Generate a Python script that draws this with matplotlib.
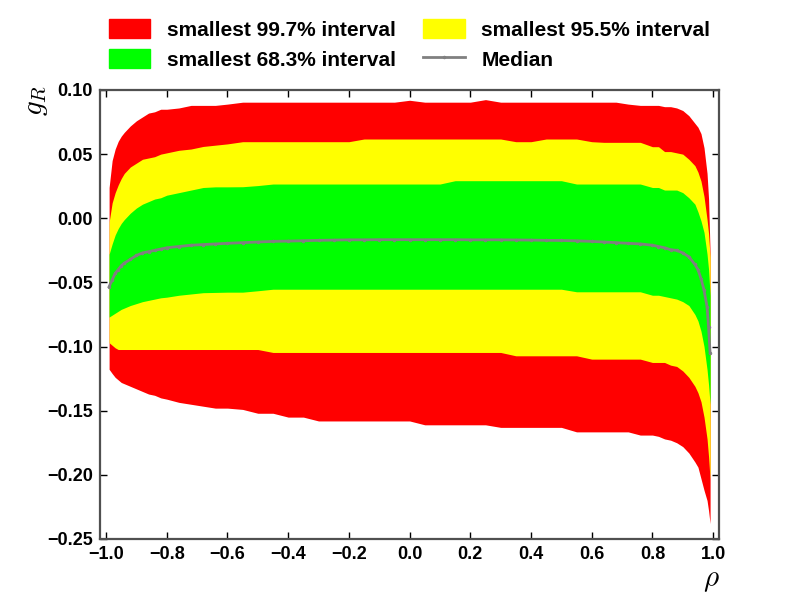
import matplotlib
matplotlib.use("Agg")
import matplotlib.pyplot as plt
from matplotlib.patches import Patch
from matplotlib.lines import Line2D

plt.rcParams['font.family'] = ['Liberation Sans', 'DejaVu Sans']
plt.rcParams['mathtext.fontset'] = 'cm'

rho = [-0.99, -0.98, -0.97, -0.96, -0.95, -0.94, -0.92, -0.90, -0.88, -0.86,
       -0.84, -0.82, -0.80, -0.76, -0.72, -0.68, -0.64, -0.60, -0.55, -0.50,
       -0.45, -0.40, -0.35, -0.30, -0.25, -0.20, -0.15, -0.10, -0.05, 0.00,
       0.05, 0.10, 0.15, 0.20, 0.25, 0.30, 0.35, 0.40, 0.45, 0.50,
       0.55, 0.60, 0.64, 0.68, 0.72, 0.76, 0.80, 0.82, 0.84, 0.86,
       0.88, 0.90, 0.92, 0.94, 0.95, 0.96, 0.97, 0.98, 0.985, 0.99]

red_top = [0.024, 0.045, 0.054, 0.060, 0.064, 0.067, 0.072, 0.076, 0.079, 0.082,
           0.083, 0.085, 0.085, 0.086, 0.088, 0.088, 0.088, 0.089, 0.0905, 0.0905,
           0.0905, 0.0905, 0.0905, 0.0905, 0.0905, 0.0905, 0.0905, 0.0905, 0.0905, 0.092,
           0.0905, 0.0905, 0.0905, 0.0905, 0.0925, 0.0905, 0.0905, 0.0905, 0.0905, 0.0905,
           0.0905, 0.0905, 0.0905, 0.0905, 0.089, 0.088, 0.088, 0.088, 0.087, 0.087,
           0.086, 0.084, 0.080, 0.074, 0.071, 0.066, 0.055, 0.035, 0.015, -0.027]

yellow_top = [-0.003, 0.012, 0.020, 0.026, 0.031, 0.035, 0.040, 0.043, 0.046, 0.047,
              0.048, 0.050, 0.051, 0.053, 0.054, 0.056, 0.057, 0.058, 0.0597, 0.0597,
              0.0597, 0.0597, 0.0597, 0.0597, 0.0597, 0.0597, 0.0618, 0.0618, 0.0618, 0.0618,
              0.0618, 0.0618, 0.0618, 0.0618, 0.0618, 0.0618, 0.0597, 0.0597, 0.0618, 0.0618,
              0.0618, 0.0597, 0.0592, 0.0592, 0.0592, 0.0592, 0.0558, 0.0558, 0.052, 0.052,
              0.051, 0.050, 0.046, 0.041, 0.036, 0.029, 0.017, -0.001, -0.012, -0.030]

green_top = [-0.028, -0.020, -0.013, -0.008, -0.004, -0.001, 0.004, 0.008, 0.011, 0.013,
             0.015, 0.016, 0.018, 0.020, 0.022, 0.024, 0.0245, 0.0245, 0.0246, 0.0255,
             0.0267, 0.0267, 0.0267, 0.0267, 0.0267, 0.0267, 0.0267, 0.0267, 0.0267, 0.0267,
             0.0267, 0.0267, 0.0293, 0.0293, 0.0293, 0.0293, 0.0293, 0.0293, 0.0293, 0.0293,
             0.0267, 0.0267, 0.0267, 0.0267, 0.0267, 0.0267, 0.024, 0.024, 0.022, 0.022,
             0.022, 0.020, 0.016, 0.011, 0.005, -0.002, -0.011, -0.028, -0.040, -0.060]

median = [-0.0534, -0.048, -0.043, -0.040, -0.037, -0.035, -0.032, -0.029, -0.027, -0.026,
          -0.025, -0.024, -0.023, -0.022, -0.021, -0.0205, -0.020, -0.0195, -0.019, -0.0185,
          -0.018, -0.0178, -0.0175, -0.0172, -0.017, -0.0168, -0.0168, -0.0167, -0.0167, -0.0167,
          -0.0167, -0.0167, -0.0167, -0.0168, -0.0168, -0.0168, -0.0169, -0.017, -0.0172, -0.0173,
          -0.0176, -0.018, -0.0185, -0.019, -0.0195, -0.020, -0.021, -0.022, -0.023, -0.0245,
          -0.025, -0.027, -0.030, -0.036, -0.040, -0.047, -0.056, -0.069, -0.085, -0.105]

green_bot = [-0.077, -0.0755, -0.074, -0.0725, -0.071, -0.070, -0.068, -0.0665, -0.065, -0.064,
             -0.063, -0.062, -0.0615, -0.060, -0.059, -0.058, -0.0578, -0.0576, -0.0576, -0.0565,
             -0.0553, -0.0553, -0.0553, -0.0553, -0.0553, -0.0553, -0.0553, -0.0553, -0.0553, -0.0553,
             -0.0553, -0.0553, -0.0553, -0.0553, -0.0553, -0.0553, -0.0553, -0.0553, -0.0553, -0.0553,
             -0.0573, -0.0573, -0.0573, -0.0573, -0.0573, -0.0573, -0.060, -0.060, -0.061, -0.062,
             -0.063, -0.065, -0.068, -0.075, -0.080, -0.088, -0.100, -0.118, -0.130, -0.145]

yellow_bot = [-0.097, -0.099, -0.101, -0.1023, -0.1023, -0.1023, -0.1023, -0.1023, -0.1023, -0.1023,
              -0.1023, -0.1023, -0.1023, -0.1023, -0.1023, -0.1023, -0.1023, -0.1023, -0.1023, -0.1023,
              -0.1046, -0.1046, -0.1046, -0.1046, -0.1046, -0.1046, -0.1046, -0.1046, -0.1046, -0.1046,
              -0.1046, -0.1046, -0.1046, -0.1046, -0.1046, -0.1046, -0.1072, -0.1072, -0.1072, -0.1072,
              -0.1072, -0.1098, -0.1098, -0.1098, -0.1098, -0.1098, -0.1124, -0.1124, -0.1124, -0.1145,
              -0.1155, -0.119, -0.124, -0.131, -0.136, -0.143, -0.155, -0.172, -0.186, -0.204]

red_bot = [-0.1177, -0.121, -0.124, -0.126, -0.128, -0.129, -0.131, -0.133, -0.135, -0.137,
           -0.138, -0.140, -0.141, -0.1435, -0.145, -0.1465, -0.148, -0.148, -0.149, -0.152,
           -0.152, -0.155, -0.155, -0.158, -0.158, -0.158, -0.158, -0.158, -0.158, -0.158,
           -0.161, -0.161, -0.161, -0.161, -0.161, -0.163, -0.163, -0.163, -0.163, -0.163,
           -0.1665, -0.1665, -0.1665, -0.1665, -0.1665, -0.169, -0.169, -0.170, -0.172, -0.173,
           -0.175, -0.178, -0.183, -0.190, -0.194, -0.203, -0.212, -0.220, -0.228, -0.238]

labels = ["smallest 99.7% interval", "smallest 68.3% interval",
          "smallest 95.5% interval", "Median"]
xticks = [-1.0, -0.8, -0.6, -0.4, -0.2, 0.0, 0.2, 0.4, 0.6, 0.8, 1.0]
yticks = [-0.25, -0.20, -0.15, -0.10, -0.05, 0.00, 0.05, 0.10]

fig = plt.figure(figsize=(8, 6), dpi=100)
ax = fig.add_axes([0.125, 0.1017, 0.774, 0.7483])

ax.fill_between(rho, red_bot, red_top, color='#ff0000', linewidth=0)
ax.fill_between(rho, yellow_bot, yellow_top, color='#ffff00', linewidth=0)
ax.fill_between(rho, green_bot, green_top, color='#00ff00', linewidth=0)
ax.plot(rho, median, color='#808080', linewidth=2, marker='.', markersize=3)

ax.set_xlim(-1.02, 1.02)
ax.set_ylim(-0.25, 0.10)
ax.set_xticks(xticks)
ax.set_yticks(yticks)
ax.set_xticklabels([f"{t:.1f}".replace('-', '\u2212') for t in xticks])
ax.set_yticklabels([f"{t:.2f}".replace('-', '\u2212') for t in yticks])
ax.tick_params(direction='in', length=5, width=1, top=True, right=True,
               labelsize=13, pad=5, color='black')
for lab in ax.get_xticklabels() + ax.get_yticklabels():
    lab.set_fontweight('bold')
for sp in ax.spines.values():
    sp.set_color('#505050')
    sp.set_linewidth(1.6)

fig.text(36 / 800, 1 - 100 / 600, r'$g_R$', rotation=90, fontsize=21,
         ha='center', va='center')
fig.text(711 / 800, 1 - 580 / 600, r'$\rho$', fontsize=21,
         ha='center', va='center')

handles = [Patch(color='#ff0000'), Patch(color='#00ff00'),
           Patch(color='#ffff00'),
           Line2D([], [], color='#808080', linewidth=2, marker='.', markersize=3,
                  markevery=[0, -1])]
fig.legend(handles, labels, loc='upper center', bbox_to_anchor=(0.512, 1.0),
           ncol=2, frameon=False, prop={'weight': 'bold', 'size': 15},
           handlelength=2.0, handleheight=1.05, handletextpad=0.8,
           columnspacing=1.3, labelspacing=0.45)

fig.savefig('out.png', dpi=100)
